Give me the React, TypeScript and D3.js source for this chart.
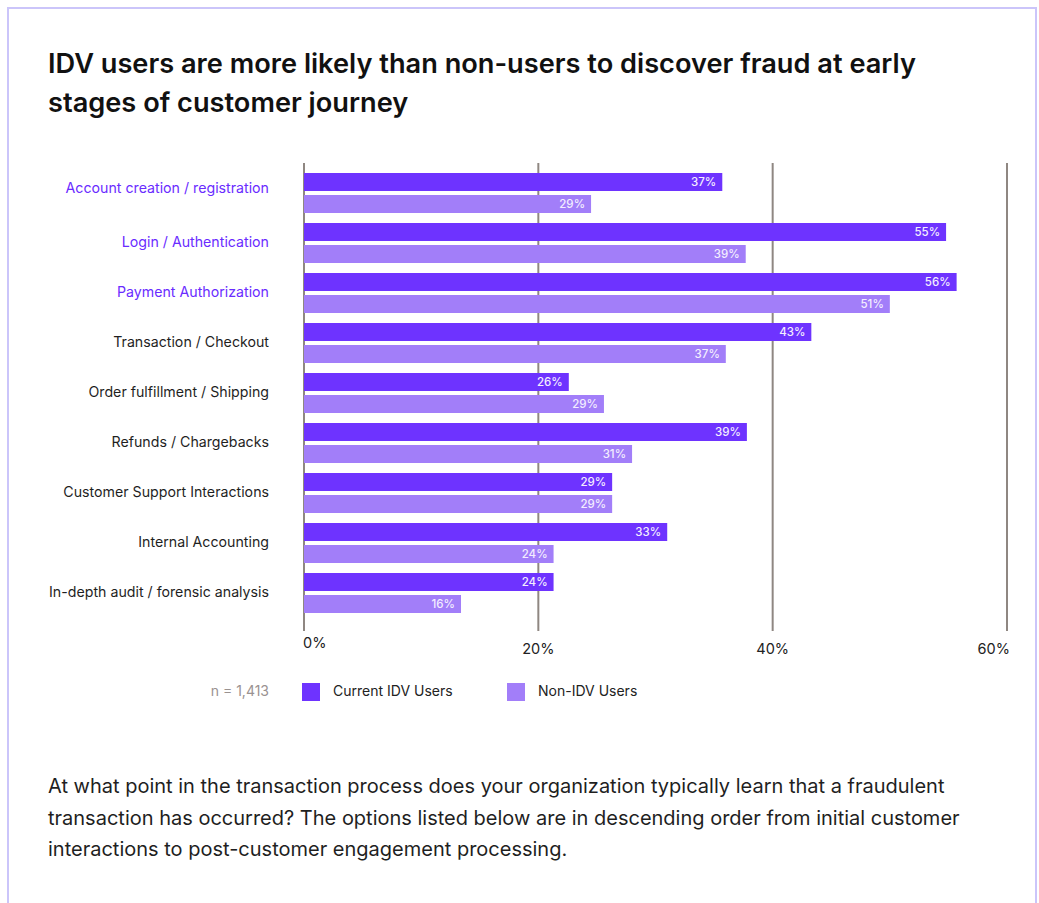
import React from "react";
import * as d3 from "d3";

const categories = [
  "Account creation / registration",
  "Login / Authentication",
  "Payment Authorization",
  "Transaction / Checkout",
  "Order fulfillment / Shipping",
  "Refunds / Chargebacks",
  "Customer Support Interactions",
  "Internal Accounting",
  "In-depth audit / forensic analysis",
];
const highlighted = [true, true, true, false, false, false, false, false, false];

// printed percentages
const idvLabels = [37, 55, 56, 43, 26, 39, 29, 33, 24];
const nonIdvLabels = [29, 39, 51, 37, 29, 31, 29, 24, 16];
// bar lengths as drawn in the picture (percent)
const idvBars = [35.7, 54.8, 55.7, 43.3, 22.6, 37.8, 26.3, 31.0, 21.3];
const nonIdvBars = [24.5, 37.7, 50.0, 36.0, 25.6, 28.0, 26.3, 21.3, 13.4];

const ticks = [0, 20, 40, 60];
const seriesNames = ["Current IDV Users", "Non-IDV Users"];
const sampleNote = "n = 1,413";

const title = [
  "IDV users are more likely than non-users to discover fraud at early",
  "stages of customer journey",
];
const question = [
  "At what point in the transaction process does your organization typically learn that a fraudulent",
  "transaction has occurred? The options listed below are in descending order from initial customer",
  "interactions to post-customer engagement processing.",
];

const COLORS = { idv: "#6e33ff", non: "#a27ef9", grid: "#8f8782", text: "#1f1f1f", hi: "#6a2cff" };
const FONT = "Inter, 'Noto Sans', sans-serif";

export default function App() {
  const W = 1039, H = 903;
  const x = d3.scaleLinear().domain([0, 60]).range([304, 1007]);
  const y = d3.scaleBand<number>().domain(d3.range(categories.length)).range([168, 618]).paddingInner(0);
  const barH = 18, gap = 4;

  return (
    <svg width={W} height={H} style={{ position: "absolute", left: 0, top: 0, background: "#fff" }} fontFamily={FONT}>
      <rect x={8} y={8} width={1028} height={H + 20} fill="#fff" stroke="#cbc5fa" strokeWidth={2} />
      {title.map((t, i) => (
        <text key={i} x={48} y={73 + i * 39} fontSize={27.2} fontWeight={600} fill="#111">{t}</text>
      ))}
      {ticks.map((t) => (
        <line key={t} x1={x(t)} x2={x(t)} y1={163} y2={631} stroke={COLORS.grid} strokeWidth={2} />
      ))}
      {categories.map((c, i) => {
        const top = (y(i) as number) + 5;
        return (
          <g key={c}>
            <text x={269} y={top + (i === 0 ? 16 : 20)} textAnchor="end" fontSize={14.2} fill={highlighted[i] ? COLORS.hi : COLORS.text} dominantBaseline="middle">{c}</text>
            <rect x={x(0)} y={top} width={x(idvBars[i]) - x(0)} height={barH} fill={COLORS.idv} />
            <rect x={x(0)} y={top + barH + gap} width={x(nonIdvBars[i]) - x(0)} height={barH} fill={COLORS.non} />
            <text x={x(idvBars[i]) - 6} y={top + barH / 2 + 0.5} textAnchor="end" dominantBaseline="middle" fontSize={11.5} fontWeight={500} fill="#f3edff">{idvLabels[i]}%</text>
            <text x={x(nonIdvBars[i]) - 6} y={top + barH + gap + barH / 2 + 0.5} textAnchor="end" dominantBaseline="middle" fontSize={11.5} fontWeight={500} fill="#f3edff">{nonIdvLabels[i]}%</text>
          </g>
        );
      })}
      {ticks.map((t, i) => (
        <text key={t} x={i === 0 ? x(t) - 1 : i === ticks.length - 1 ? x(t) + 3 : x(t)} y={i === 0 ? 644 : 650}
          textAnchor={i === 0 ? "start" : i === ticks.length - 1 ? "end" : "middle"} dominantBaseline="middle" fontSize={14.5} fill="#222">{t}%</text>
      ))}
      <text x={269} y={692} textAnchor="end" dominantBaseline="middle" fontSize={14} fill="#9a9291">{sampleNote}</text>
      {seriesNames.map((s, i) => (
        <g key={s} transform={`translate(${302 + i * 205},683)`}>
          <rect width={18} height={18} fill={i === 0 ? COLORS.idv : COLORS.non} />
          <text x={31} y={9.5} dominantBaseline="middle" fontSize={14} fill="#222">{s}</text>
        </g>
      ))}
      {question.map((q, i) => (
        <text key={i} x={48} y={793 + i * 31.5} fontSize={20} fill="#1f1f1f">{q}</text>
      ))}
    </svg>
  );
}
